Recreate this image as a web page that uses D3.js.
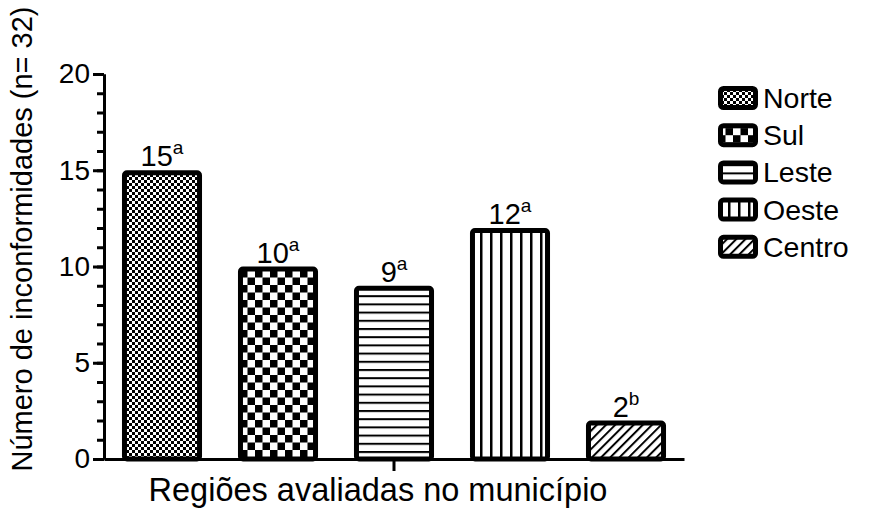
<!DOCTYPE html>
<html>
<head>
<meta charset="utf-8">
<script src="https://cdn.jsdelivr.net/npm/d3@7"></script>
<style>
  html, body { margin: 0; padding: 0; background: #fff; }
  svg { display: block; }
  text { font-family: "Liberation Sans", Arial, sans-serif; fill: #000; }
</style>
</head>
<body>
<svg id="chart" width="883" height="522"></svg>
<script>
// Regions and number of non-conformities per region
const regions = ["Norte", "Sul", "Leste", "Oeste", "Centro"];
const counts = [15, 10, 9, 12, 2];
const letters = ["a", "a", "a", "a", "b"];
const yTicksMajor = [0, 5, 10, 15, 20];
const yTicksMinor = d3.range(0, 21, 1);
const yTitle = "Número de inconformidades (n= 32)";
const xTitle = "Regiões avaliadas no município";

const svg = d3.select("#chart");
const defs = svg.append("defs");

// Fill patterns, one per region
function pattern(id, w, h, draw, transform) {
  const p = defs.append("pattern")
    .attr("id", id)
    .attr("patternUnits", "userSpaceOnUse")
    .attr("width", w).attr("height", h);
  if (transform) p.attr("patternTransform", transform);
  p.append("rect").attr("width", w).attr("height", h).attr("fill", "#fff");
  draw(p);
}
pattern("p-norte", 6, 6, p => {
  p.append("rect").attr("x", 0).attr("y", 0).attr("width", 3).attr("height", 3).attr("fill", "#000");
  p.append("rect").attr("x", 3).attr("y", 3).attr("width", 3).attr("height", 3).attr("fill", "#000");
});
pattern("p-sul", 15, 15, p => {
  p.append("rect").attr("x", 0).attr("y", 0).attr("width", 7.5).attr("height", 7.5).attr("fill", "#000");
  p.append("rect").attr("x", 7.5).attr("y", 7.5).attr("width", 7.5).attr("height", 7.5).attr("fill", "#000");
});
pattern("p-leste", 8, 8.2, p => {
  p.append("rect").attr("x", 0).attr("y", 0).attr("width", 8).attr("height", 2).attr("fill", "#000");
});
pattern("p-oeste", 10, 10, p => {
  p.append("rect").attr("x", 0).attr("y", 0).attr("width", 2.5).attr("height", 10).attr("fill", "#000");
});
pattern("p-centro", 6.5, 6.5, p => {
  p.append("rect").attr("x", 0).attr("y", 0).attr("width", 2).attr("height", 6.5).attr("fill", "#000");
}, "rotate(45)");
const fills = regions.map(r => "url(#p-" + r.toLowerCase() + ")");

// Scales
const x = d3.scaleBand().domain(regions).range([104, 684]).paddingInner(0.31).paddingOuter(0.155);
const y = d3.scaleLinear().domain([0, 20]).range([459, 74]);

const stroke = 5;

// Bars
svg.append("g").selectAll("rect")
  .data(regions)
  .join("rect")
  .attr("x", d => x(d) + stroke / 2)
  .attr("width", x.bandwidth() - stroke)
  .attr("y", (d, i) => y(counts[i]) + stroke / 2)
  .attr("height", (d, i) => y(0) - y(counts[i]) - stroke / 2)
  .attr("rx", 2.5)
  .attr("fill", (d, i) => fills[i])
  .attr("stroke", "#000")
  .attr("stroke-width", stroke);

// Value labels with significance letters
const lbl = svg.append("g").selectAll("text")
  .data(regions)
  .join("text")
  .attr("x", d => x(d) + x.bandwidth() / 2)
  .attr("y", (d, i) => y(counts[i]) - 4)
  .attr("text-anchor", "middle")
  .style("font-size", "29px");
lbl.append("tspan").text((d, i) => counts[i]);
lbl.append("tspan").attr("dy", -12).style("font-size", "19px").text((d, i) => letters[i]);

// Y axis: minor ticks every unit, labelled major ticks every 5
const yMinor = svg.append("g").attr("transform", "translate(104,0)")
  .call(d3.axisLeft(y).tickValues(yTicksMinor).tickSize(7).tickSizeOuter(0).tickFormat(""));
const yMajor = svg.append("g").attr("transform", "translate(104,0)")
  .call(d3.axisLeft(y).tickValues(yTicksMajor).tickSize(11).tickSizeOuter(0).tickPadding(3));
[yMinor, yMajor].forEach(g => {
  g.selectAll("path.domain").attr("stroke", "#000").attr("stroke-width", 3);
  g.selectAll(".tick line").attr("stroke", "#000").attr("stroke-width", 3);
});
yMajor.selectAll(".tick text").style("font-size", "28px").attr("fill", "#000")
  .style("font-family", "'Liberation Sans', Arial, sans-serif");

// X axis: baseline with a single centred tick
const xAxis = svg.append("g").attr("transform", "translate(0,459)")
  .call(d3.axisBottom(x).tickValues([regions[2]]).tickSize(12).tickSizeOuter(0).tickFormat(""));
xAxis.select("path.domain").attr("stroke", "#000").attr("stroke-width", 3);
xAxis.selectAll(".tick line").attr("stroke", "#000").attr("stroke-width", 3);

// Axis titles
svg.append("text")
  .attr("transform", "translate(32,239) rotate(-90)")
  .attr("text-anchor", "middle")
  .style("font-size", "29px")
  .text(yTitle);
svg.append("text")
  .attr("x", 378).attr("y", 501)
  .attr("text-anchor", "middle")
  .style("font-size", "32.5px")
  .text(xTitle);

// Legend
const leg = svg.append("g").selectAll("g")
  .data(regions)
  .join("g")
  .attr("transform", (d, i) => `translate(718,${98 + i * 37.2})`);
leg.append("rect")
  .attr("x", 2.5).attr("y", -9.5)
  .attr("width", 35).attr("height", 19)
  .attr("rx", 3)
  .attr("fill", (d, i) => fills[i])
  .attr("stroke", "#000")
  .attr("stroke-width", 5);
leg.append("text")
  .attr("x", 45).attr("y", 10)
  .style("font-size", "28.5px")
  .text(d => d);
</script>
</body>
</html>
